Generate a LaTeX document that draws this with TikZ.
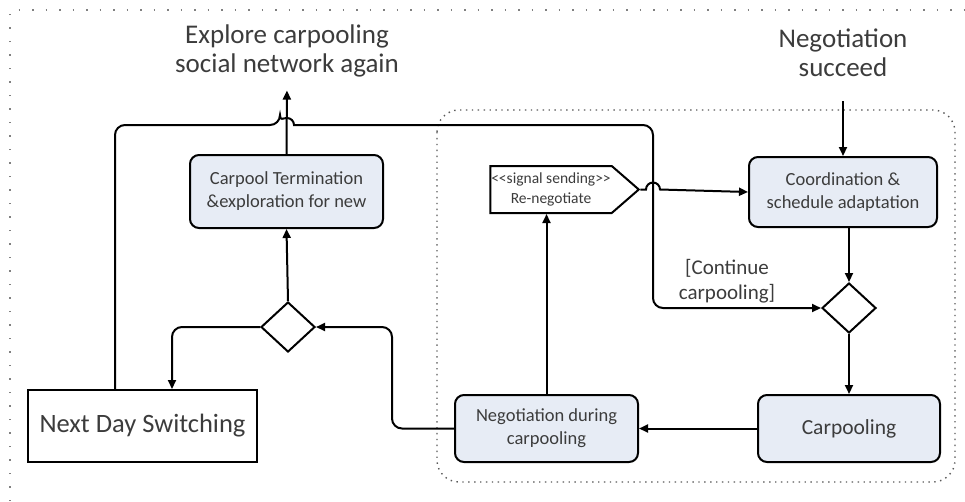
\documentclass[tikz,border=0pt]{standalone}
\usepackage{fontspec}
\setmainfont{Carlito}
\usetikzlibrary{arrows.meta,shapes.geometric,shapes.symbols}

\definecolor{actfill}{RGB}{231,236,245}
\definecolor{txtgray}{RGB}{60,60,60}

\tikzset{
  act/.style={draw, rounded corners=9pt, fill=actfill, align=center, text=txtgray,
    font=\fontsize{18.5}{23}\selectfont},
  choice/.style={draw, diamond, aspect=1.08, minimum width=54pt, minimum height=50pt,
    inner sep=0pt, fill=white},
  bigtext/.style={align=center, text=txtgray, font=\fontsize{27}{29}\selectfont}
}

\begin{document}
\begin{tikzpicture}[x=1pt, y=-1pt, line width=2pt,
  >={Triangle[length=9pt,width=8pt]}]
\useasboundingbox (0,0) rectangle (965,501);

% frames
\draw[gray, line width=1.3pt, dash pattern=on 1.5pt off 12pt] (10,501) -- (10,10) -- (965,10);
\draw[gray!70!black, line width=1.4pt, dash pattern=on 1.4pt off 4.5pt, rounded corners=22pt]
  (437,110) rectangle (955,482);

% texts at the top
\node[bigtext] (explore) at (287,51) {Explore carpooling\\social network again};
\node[bigtext] (succeed) at (843,53) {Negotiation\\succeed};

% activities
\node[act, minimum width=193pt, minimum height=73pt] (term) at (286.5,191.5)
  {Carpool Termination\\\&exploration for new};
\node[choice] (dleft) at (288,327) {};
\node[draw, fill=white, minimum width=229pt, minimum height=72pt, text=txtgray,
  font=\fontsize{26.5}{30}\selectfont] (next) at (142.5,426) {Next Day Switching};
\node[act, minimum width=183pt, minimum height=67pt] (neg) at (546.5,428.5)
  {Negotiation during\\carpooling};
\node[act, minimum width=182pt, minimum height=67pt, font=\fontsize{21.5}{24}\selectfont]
  (carp) at (849,428.5) {Carpooling};
\node[act, minimum width=188pt, minimum height=70pt] (coord) at (843,192)
  {Coordination \&\\schedule adaptation};
\node[choice] (dright) at (849,308) {};
\node[draw, signal, signal to=east, signal pointer angle=82, fill=white, align=center,
  minimum width=147pt, minimum height=47pt, inner sep=1pt, text=txtgray,
  font=\fontsize{15.5}{20}\selectfont] (sig) at (551,189.5)
  {<{}<signal sending>{}>\\Re-negotiate};
\node[text=txtgray, align=center, font=\fontsize{21}{25}\selectfont] (cont) at (727,281)
  {[Continue\\carpooling]};

% connectors
\draw[->, shorten >=9pt] (term.north) -- (explore.south);
\draw[->, shorten <=20pt] (succeed.south) -- (coord.north -| succeed.south);
\draw[->] (dleft.north) -- (term.south);
\draw[->, rounded corners=10pt] (dleft.west) -| ([xshift=29.5pt]next.north);
\draw[->, rounded corners=10pt] (neg.west) -- (neg.west -| 392,0) |- (dleft.east);
\draw[->] (neg.north) -- (neg.north |- sig.south);
\draw[->] (sig.east) -- (sig.east -| 646,0) arc[start angle=180, end angle=0, radius=7pt]
  -- (coord.west);
\draw[->, rounded corners=10pt] ([xshift=-27.5pt]next.north) |- (280,125)
  [sharp corners] arc[start angle=180, end angle=0, radius=7pt]
  [rounded corners=10pt] -- (653,125) |- (dright.west);
\draw[->] (coord.south -| dright.north) -- (dright.north);
\draw[->] (dright.south) -- (carp.north -| dright.south);
\draw[->] (carp.west) -- (neg.east);
\end{tikzpicture}
\end{document}
